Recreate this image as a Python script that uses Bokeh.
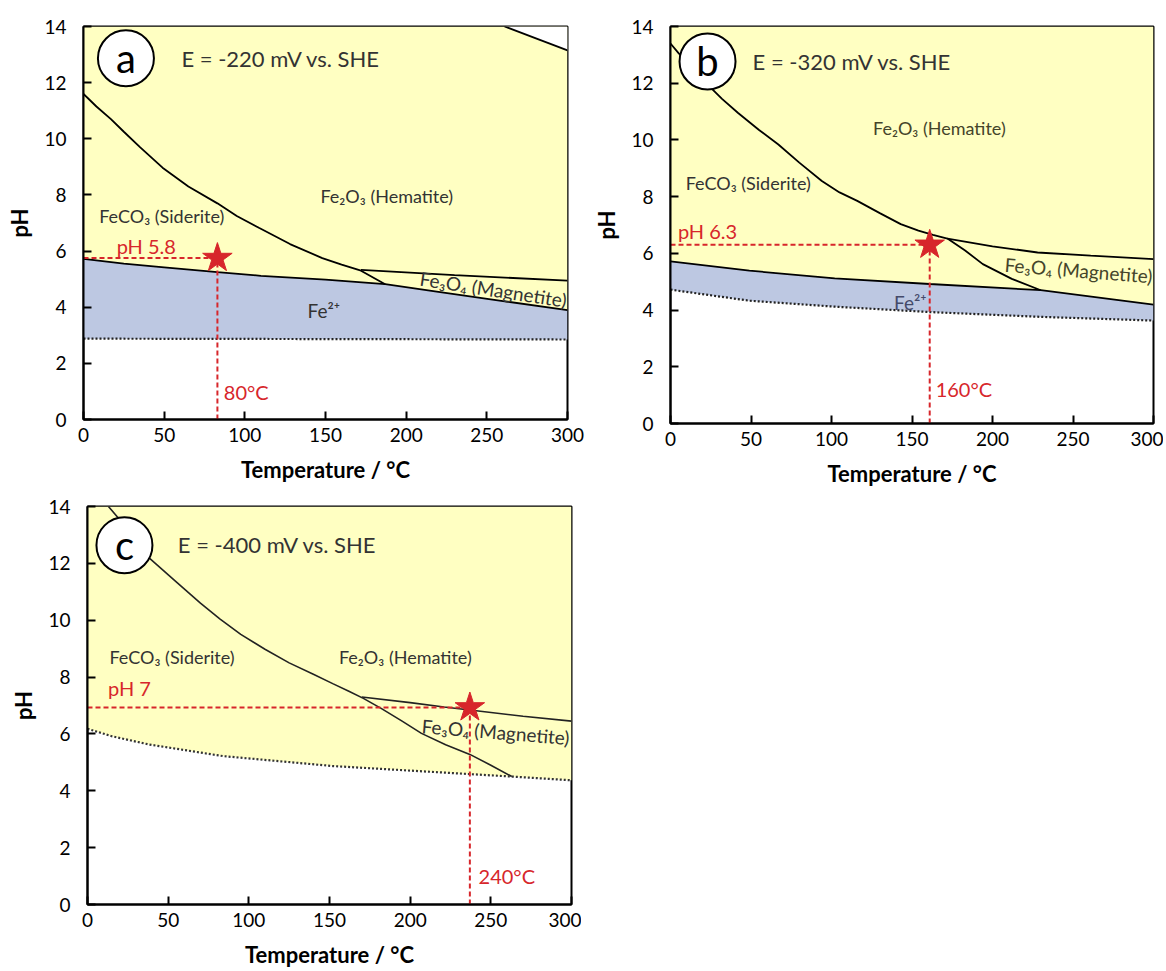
from bokeh.plotting import figure
from bokeh.layouts import row, column
from bokeh.models import Label, FixedTicker, Range1d
from bokeh.embed import file_html
from bokeh.resources import INLINE

FONT = "Lato"
YELLOW = "#FFFFC2"
BLUE = "#BDC8E2"
RED = "#D7262B"
TXT = "#333333"

x_ticks = [0, 50, 100, 150, 200, 250, 300]
y_ticks = [0, 2, 4, 6, 8, 10, 12, 14]

# ---------------- Panel a : E = -220 mV ----------------
a_fe2_T = [0, 25, 50, 83, 110, 150, 187, 220, 260, 300]
a_fe2_pH = [5.72, 5.55, 5.42, 5.25, 5.12, 4.98, 4.82, 4.55, 4.22, 3.9]
a_dot_T = [0, 100, 200, 300]
a_dot_pH = [2.88, 2.87, 2.86, 2.85]
a_sid_T = [0, 8, 17, 25, 35, 49, 65, 83, 95, 109, 128, 148, 160, 172, 187]
a_sid_pH = [11.6, 11.15, 10.7, 10.25, 9.7, 8.97, 8.3, 7.7, 7.25, 6.82, 6.25, 5.75, 5.52, 5.3, 4.82]
a_mag_T = [172, 230, 300]
a_mag_pH = [5.33, 5.14, 4.95]
a_top_T = [261, 300]
a_top_pH = [14.0, 13.15]
a_star = (83, 5.75)

# ---------------- Panel b : E = -320 mV ----------------
b_fe2_T = [0, 49, 102, 161, 230, 300]
b_fe2_pH = [5.72, 5.39, 5.12, 4.92, 4.7, 4.19]
b_dot_T = [0, 49, 102, 161, 230, 300]
b_dot_pH = [4.72, 4.33, 4.12, 3.93, 3.76, 3.63]
b_sid_T = [0, 5, 15, 24, 32, 42, 55, 67, 80, 94, 105, 116, 130, 143, 154, 163, 172, 183, 194, 212, 230]
b_sid_pH = [13.4, 13.06, 12.45, 11.9, 11.45, 10.95, 10.35, 9.84, 9.2, 8.55, 8.15, 7.85, 7.42,
            7.03, 6.8, 6.65, 6.52, 6.1, 5.62, 5.1, 4.7]
b_mag_T = [172, 200, 228, 261, 300]
b_mag_pH = [6.52, 6.25, 6.03, 5.92, 5.8]
b_star = (161, 6.3)

# ---------------- Panel c : E = -400 mV ----------------
c_dot_T = [0, 15, 38, 84, 152, 221, 263, 300]
c_dot_pH = [6.18, 5.92, 5.63, 5.22, 4.87, 4.64, 4.5, 4.37]
c_sid_T = [13, 25, 38, 55, 70, 82, 95, 110, 125, 140, 152, 162, 171, 182, 195, 207, 222, 237, 250, 263]
c_sid_pH = [14.0, 13.2, 12.2, 11.35, 10.6, 10.05, 9.5, 8.98, 8.5, 8.1, 7.77, 7.5, 7.25, 6.9,
            6.45, 6.02, 5.62, 5.28, 4.9, 4.5]
c_mag_T = [170, 200, 221, 237, 270, 300]
c_mag_pH = [7.3, 7.1, 6.95, 6.84, 6.62, 6.45]
c_star = (237, 6.93)


def make_fig(left, top, fw, fh, right, bottom):
    p = figure(frame_width=fw, frame_height=fh,
               x_range=Range1d(0, 300), y_range=Range1d(0, 14),
               output_backend="svg", toolbar_location=None,
               min_border_left=left, min_border_top=top,
               min_border_right=right, min_border_bottom=bottom)
    p.grid.visible = False
    p.background_fill_color = "white"
    p.border_fill_color = "white"
    p.outline_line_color = "black"
    p.outline_line_width = 2
    p.outline_line_alpha = 1
    for ax in (p.xaxis[0], p.yaxis[0]):
        ax.major_tick_in = 8
        ax.major_tick_out = 0
        ax.minor_tick_in = 0
        ax.minor_tick_out = 0
        ax.axis_line_width = 2
        ax.major_tick_line_width = 2
        ax.major_label_text_font = FONT
        ax.major_label_text_font_size = "19px"
        ax.major_label_text_color = "black"
        ax.axis_label_text_font = FONT
        ax.axis_label_text_font_size = "22px"
        ax.axis_label_text_font_style = "bold"
        ax.axis_label_text_color = "black"
    p.xaxis.ticker = FixedTicker(ticks=x_ticks)
    p.yaxis.ticker = FixedTicker(ticks=y_ticks)
    p.xaxis.axis_label = "Temperature / °C"
    p.yaxis.axis_label = "pH"
    p.xaxis.major_label_standoff = 8
    p.xaxis.axis_label_standoff = 11
    p.yaxis.major_label_standoff = 17
    p.yaxis.axis_label_standoff = 8
    return p


def lab(p, x, y, text, size="18px", color=TXT, align="center", angle=0.0,
        style="normal"):
    p.add_layout(Label(x=x, y=y, text=text, text_font=FONT, text_font_size=size,
                       text_color=color, text_align=align, text_baseline="middle",
                       angle=angle, text_font_style=style))


def marker_lines(p, star):
    t, ph = star
    p.line([0, t], [ph, ph], line_color=RED, line_width=2, line_dash="5 3")
    p.line([t, t], [0, ph], line_color=RED, line_width=2, line_dash="5 3")
    p.scatter([t], [ph], marker="star", size=31, fill_color=RED, line_color=RED)


def badge(p, x, y, letter):
    p.scatter([x], [y], marker="circle", size=56, fill_color="white",
              line_color="black", line_width=2)
    lab(p, x, y, letter, size="40px", color="black")


# ---- figure a ----
pa = make_fig(83, 22, 484, 393, 23, 81)
pa.varea(x=a_fe2_T, y1=a_fe2_pH, y2=14, fill_color=YELLOW)
pa.patch(a_fe2_T + a_dot_T[::-1], a_fe2_pH + a_dot_pH[::-1], fill_color=BLUE, line_color=None)
pa.patch(a_top_T + [a_top_T[-1]], a_top_pH + [a_top_pH[0]], fill_color="white", line_color=None)
pa.line(a_fe2_T, a_fe2_pH, line_color="black", line_width=1.8)
pa.line(a_sid_T, a_sid_pH, line_color="black", line_width=1.8)
pa.line(a_mag_T, a_mag_pH, line_color="black", line_width=1.8)
pa.line(a_top_T, a_top_pH, line_color="black", line_width=1.8)
pa.line(a_dot_T, a_dot_pH, line_color="#222222", line_width=2.2, line_dash="2 2")
marker_lines(pa, a_star)
badge(pa, 26.3, 12.87, "a")
lab(pa, 60.7, 12.87, "E = -220 mV vs. SHE", size="22px", align="left")
lab(pa, 188, 7.96, "Fe₂O₃ (Hematite)")
lab(pa, 48.5, 7.25, "FeCO₃ (Siderite)")
lab(pa, 149, 3.9, "Fe²⁺", size="19px")
lab(pa, 254, 4.64, "Fe₃O₄ (Magnetite)", size="19px", angle=-0.15)
lab(pa, 38.9, 6.18, "pH 5.8", size="20px", color=RED)
lab(pa, 87, 0.97, "80°C", size="20px", color=RED, align="left")

# ---- figure b ----
pb = make_fig(76, 26, 483, 397, 10, 73)
pb.varea(x=b_fe2_T, y1=b_fe2_pH, y2=14, fill_color=YELLOW)
pb.patch(b_fe2_T + b_dot_T[::-1], b_fe2_pH + b_dot_pH[::-1], fill_color=BLUE, line_color=None)
pb.line(b_fe2_T, b_fe2_pH, line_color="black", line_width=1.8)
pb.line(b_sid_T, b_sid_pH, line_color="black", line_width=1.8)
pb.line(b_mag_T, b_mag_pH, line_color="black", line_width=1.8)
pb.line(b_dot_T, b_dot_pH, line_color="#222222", line_width=2.2, line_dash="2 2")
marker_lines(pb, b_star)
badge(pb, 23, 12.77, "b")
lab(pb, 51, 12.77, "E = -320 mV vs. SHE", size="22px", align="left")
lab(pb, 167, 10.43, "Fe₂O₃ (Hematite)", color="#44442a")
lab(pb, 48.3, 8.49, "FeCO₃ (Siderite)")
lab(pb, 149, 4.28, "Fe²⁺", size="19px", color="#444a6a")
lab(pb, 253.5, 5.41, "Fe₃O₄ (Magnetite)", size="19px", color="#44442a", angle=-0.08)
lab(pb, 23, 6.8, "pH 6.3", size="20px", color=RED)
lab(pb, 164.7, 1.23, "160°C", size="20px", color=RED, align="left")

# ---- figure c ----
pc = make_fig(87, 10, 484, 398, 10, 64)
pc.varea(x=c_dot_T, y1=c_dot_pH, y2=14, fill_color=YELLOW)
pc.line(c_sid_T, c_sid_pH, line_color="#222222", line_width=1.6)
pc.line(c_mag_T, c_mag_pH, line_color="#222222", line_width=1.6)
pc.line(c_dot_T, c_dot_pH, line_color="#333333", line_width=2.2, line_dash="2 2")
marker_lines(pc, c_star)
badge(pc, 22.9, 12.64, "c")
lab(pc, 56, 12.68, "E = -400 mV vs. SHE", size="22px", align="left")
lab(pc, 52.4, 8.71, "FeCO₃ (Siderite)")
lab(pc, 197, 8.71, "Fe₂O₃ (Hematite)")
lab(pc, 253, 6.08, "Fe₃O₄ (Magnetite)", size="19px", angle=-0.08)
lab(pc, 26, 7.6, "pH 7", size="20px", color=RED)
lab(pc, 242.4, 0.99, "240°C", size="20px", color=RED, align="left")

layout = column(row(pa, pb), pc)
open("out.html", "w").write(file_html(layout, INLINE))
